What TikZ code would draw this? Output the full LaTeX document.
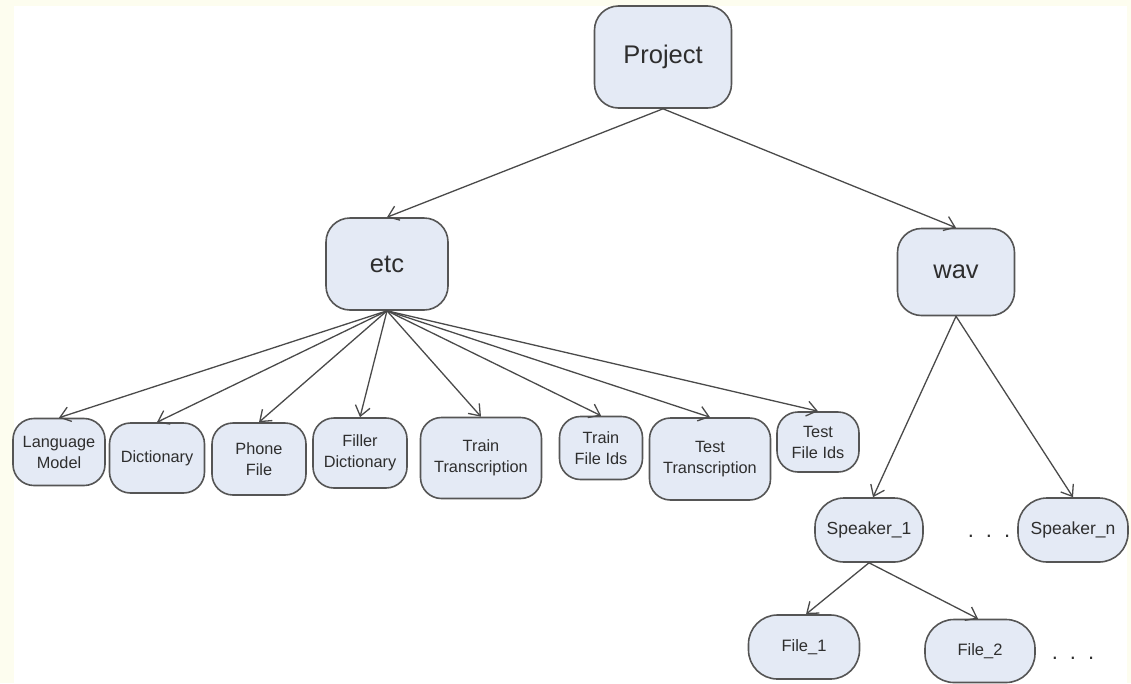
\documentclass[tikz,border=0pt]{standalone}
\usepackage{fontspec}
\setmainfont{Liberation Sans}
\usetikzlibrary{arrows.meta}
\definecolor{boxfill}{HTML}{E4EAF5}
\definecolor{boxline}{HTML}{555555}
\definecolor{edgecol}{HTML}{4A4A4A}
\definecolor{textcol}{HTML}{2E2E2E}
\definecolor{paper}{HTML}{FDFDEF}
\tikzset{
  dirbox/.style={draw=boxline, fill=boxfill, line width=1.6pt, text=textcol,
    align=center, inner sep=0pt, rounded corners=24pt},
  bigbox/.style={dirbox, font=\fontsize{25.5}{29}\selectfont},
  leafbox/.style={dirbox, rounded corners=21pt, font=\fontsize{16.3}{21}\selectfont},
  spkbox/.style={dirbox, rounded corners=29pt, font=\fontsize{17.5}{21}\selectfont},
  filebox/.style={dirbox, rounded corners=29pt, font=\fontsize{16.5}{19}\selectfont},
  link/.style={draw=edgecol, line width=1.3pt,
    -{Straight Barb[length=10pt,width=15pt,line width=1.3pt]}},
  ellip/.style={text=textcol, font=\fontsize{22}{22}\selectfont}
}
\begin{document}
\begin{tikzpicture}[x=1pt, y=-1pt]
  % page with its pale frame
  \fill[paper] (0,0) rectangle (1131,683);
  \fill[white] (14,6) rectangle (1127,683);
  \useasboundingbox (0,0) rectangle (1131,683);

  % root and first level
  \node[bigbox, minimum width=137pt, minimum height=102pt] (project) at (663,57) {Project};
  \node[bigbox, minimum width=122pt, minimum height=92pt] (etc) at (387,264) {etc};
  \node[bigbox, minimum width=117pt, minimum height=87pt] (wav) at (956,272) {wav};

  % files under etc
  \node[leafbox, minimum width=92pt, minimum height=67pt] (lm) at (59,452) {Language\\Model};
  \node[leafbox, minimum width=95pt, minimum height=70pt] (dict) at (157,458) {Dictionary};
  \node[leafbox, minimum width=94pt, minimum height=72pt] (phone) at (259,459) {Phone\\File};
  \node[leafbox, minimum width=94pt, minimum height=70pt] (filler) at (360,453) {Filler\\Dictionary};
  \node[leafbox, minimum width=121pt, minimum height=81pt] (traintr) at (481,458) {Train\\Transcription};
  \node[leafbox, minimum width=83pt, minimum height=63pt] (trainids) at (601,448) {Train\\File Ids};
  \node[leafbox, minimum width=121pt, minimum height=82pt] (testtr) at (710,459) {Test\\Transcription};
  \node[leafbox, minimum width=82pt, minimum height=60pt] (testids) at (818,442) {Test\\File Ids};

  % speakers and their files under wav
  \node[spkbox, minimum width=108pt, minimum height=64pt] (spk1) at (869,530) {Speaker\_1};
  \node[spkbox, minimum width=110pt, minimum height=64pt] (spkn) at (1073,530) {Speaker\_n};
  \node[filebox, minimum width=111pt, minimum height=64pt] (file1) at (804,647) {File\_1};
  \node[filebox, minimum width=110pt, minimum height=63pt] (file2) at (980,651) {File\_2};

  \node[ellip] (morespk) at (989,536) {.\hspace{12pt}.\hspace{12pt}.};
  \node[ellip] (morefile) at (1073,658) {.\hspace{12pt}.\hspace{12pt}.};

  % connectors
  \draw[link] (project.south) -- (etc.north);
  \draw[link] (project.south) -- (wav.north);
  \foreach \leaf in {lm,dict,phone,filler,traintr,trainids,testtr,testids}
    \draw[link] (etc.south) -- (\leaf.north);
  \draw[link] (wav.south) -- ([xshift=4pt]spk1.north);
  \draw[link] (wav.south) -- (spkn.north);
  \draw[link] (spk1.south) -- ([xshift=2pt]file1.north);
  \draw[link] (spk1.south) -- ([xshift=-2pt]file2.north);
\end{tikzpicture}
\end{document}
